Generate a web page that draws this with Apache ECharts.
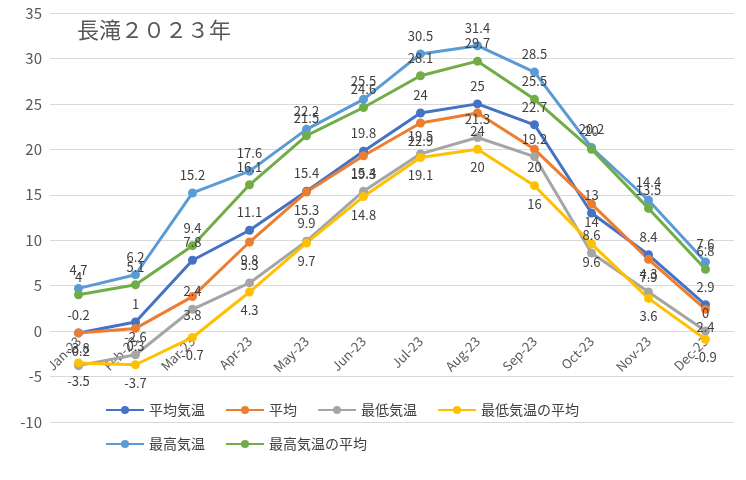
<!DOCTYPE html>
<html lang="ja">
<head>
<meta charset="UTF-8">
<title>長滝２０２３年</title>
<script src="https://cdn.jsdelivr.net/npm/echarts@6/dist/echarts.min.js"></script>
</head>
<body style="margin:0">
<div id="main" style="width:746px;height:480px;"></div>
<script type="text/javascript">
var months = ['Jan-23','Feb-23','Mar-23','Apr-23','May-23','Jun-23','Jul-23','Aug-23','Sep-23','Oct-23','Nov-23','Dec-23'];
var heikinKion = [-0.2, 1, 7.8, 11.1, 15.4, 19.8, 24, 25, 22.7, 13, 8.4, 2.9];
var heikin = [-0.2, 0.3, 3.8, 9.8, 15.3, 19.3, 22.9, 24, 20, 14, 7.9, 2.4];
var saitei = [-3.8, -2.6, 2.4, 5.3, 9.9, 15.4, 19.5, 21.3, 19.2, 8.6, 4.3, 0];
var saiteiHeikin = [-3.5, -3.7, -0.7, 4.3, 9.7, 14.8, 19.1, 20, 16, 9.6, 3.6, -0.9];
var saikou = [4.7, 6.2, 15.2, 17.6, 22.2, 25.5, 30.5, 31.4, 28.5, 20.2, 14.4, 7.6];
var saikouHeikin = [4, 5.1, 9.4, 16.1, 21.5, 24.6, 28.1, 29.7, 25.5, 20, 13.5, 6.8];

var chart = echarts.init(document.getElementById('main'));
function s(name, data, color, pos) {
    return {
        name: name, type: 'line', data: data,
        symbol: 'circle', symbolSize: 9,
        lineStyle: {width: 3, color: color},
        itemStyle: {color: color},
        label: {show: true, position: pos || 'top', color: '#404040', fontSize: 13, distance: 7}
    };
}
chart.setOption({
    textStyle: {fontFamily: 'Noto Sans CJK JP'},
    title: {text: '長滝２０２３年', left: 72, top: 14,
        textStyle: {fontSize: 22, fontWeight: 'normal', color: '#595959'}},
    grid: {left: 50, right: 12, top: 13, bottom: 58},
    legend: {
        top: 398, left: 100, width: 570, itemGap: 20, itemWidth: 38, itemHeight: 10,
        textStyle: {fontSize: 14, color: '#404040', width: 122}
    },
    xAxis: {
        type: 'category', data: months, boundaryGap: true,
        offset: -91,
        axisLine: {onZero: false, lineStyle: {color: '#d9d9d9'}},
        axisTick: {show: false},
        axisLabel: {rotate: 45, color: '#595959', fontSize: 13, interval: 0}
    },
    yAxis: {
        type: 'value', min: -10, max: 35, interval: 5,
        axisLabel: {color: '#595959', fontSize: 15},
        splitLine: {lineStyle: {color: '#d9d9d9'}}
    },
    series: [
        s('平均気温', heikinKion, '#4472C4'),
        s('平均', heikin, '#ED7D31', 'bottom'),
        s('最低気温', saitei, '#A5A5A5'),
        s('最低気温の平均', saiteiHeikin, '#FFC000', 'bottom'),
        s('最高気温', saikou, '#5B9BD5'),
        s('最高気温の平均', saikouHeikin, '#70AD47')
    ]
});
</script>
</body>
</html>
